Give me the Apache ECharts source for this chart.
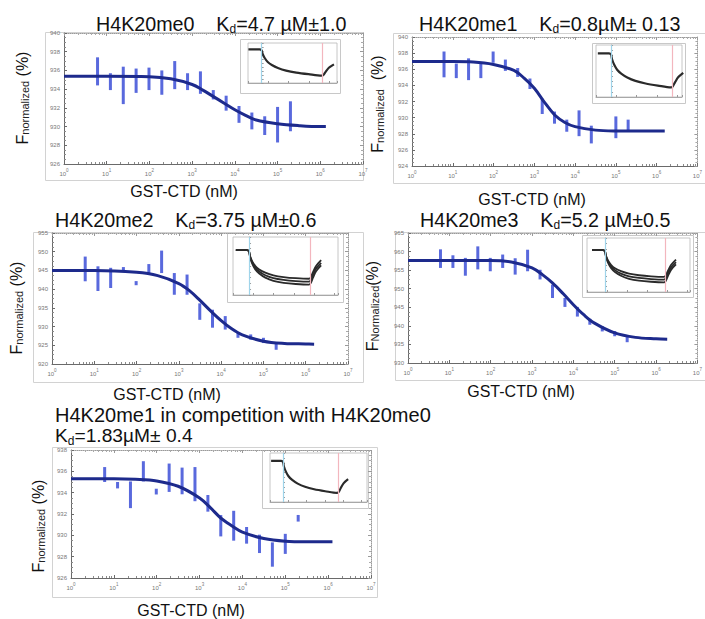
<!DOCTYPE html>
<html><head><meta charset="utf-8">
<script src="https://cdn.jsdelivr.net/npm/echarts@6/dist/echarts.min.js"></script>
<style>html,body{margin:0;padding:0;background:#fff}#c{width:705px;height:619px}</style>
</head><body><div id="c"></div>
<script>
// ---- data ----
const concentrationsNM = [6.1, 12.2, 24.4, 48.8, 97.7, 195, 391, 781, 1563, 3125, 6250, 12500, 25000, 50000, 100000, 200000];
const xTickExponents = [0, 1, 2, 3, 4, 5, 6, 7];

const me0Values = [935.9, 934.8, 934.4, 934.9, 935.1, 934.7, 935.5, 934.8, 934.7, 933.4, 932.5, 931.3, 930.6, 930.1, 930.2, 931.1];
const me0Errors = [1.5, 0.9, 2.0, 1.3, 1.2, 1.3, 1.5, 0.9, 1.2, 0.5, 0.8, 0.9, 0.9, 1.0, 1.9, 1.6];
const me0FitX = [1, 10, 100, 316, 1000, 1778, 3162, 5623, 10000, 17783, 31623, 100000, 316228, 1000000, 1350000];
const me0FitY = [935.37, 935.37, 935.33, 935.1, 934.5, 933.9, 933.2, 932.5, 931.8, 931.2, 930.7, 930.3, 930.1, 930.0, 930.0];
const me0YAxis = [926, 940, 2];

const me1Values = [936.6, 935.8, 936.0, 935.9, 937.5, 936.5, 935.6, 934.2, 931.4, 930.0, 929.0, 929.3, 927.9, null, 928.8, 929.1];
const me1Errors = [1.6, 0.9, 1.35, 1.0, 0.7, 0.7, 0.55, 0.65, 0.95, 0.75, 0.75, 1.6, 1.1, null, 1.35, 0.65];
const me1FitX = [1, 10, 31.6, 100, 316, 562, 1000, 1778, 3162, 5623, 10000, 31623, 100000, 1000000, 1580000];
const me1FitY = [936.95, 936.95, 936.9, 936.6, 935.85, 934.9, 933.65, 931.9, 930.33, 929.4, 928.88, 928.45, 928.35, 928.33, 928.33];
const me1YAxis = [924, 940, 2];

const me2Values = [945.4, 942.8, 943.0, 945.4, 941.6, 945.5, 947.3, 941.4, 941.2, 934.0, 932.1, 931.0, 927.7, 927.2, 926.3, 924.7];
const me2Errors = [3.3, 3.3, 2.7, 0.5, 0.55, 1.2, 3.0, 2.9, 2.7, 2.2, 2.4, 1.8, 0.7, 0.7, 0.7, 0.9];
const me2FitX = [1, 10, 100, 316, 1000, 1778, 3162, 5623, 10000, 17783, 31623, 100000, 316228, 1000000, 1580000];
const me2FitY = [945.0, 945.0, 944.5, 943.6, 941.5, 939.6, 937.0, 934.2, 931.6, 929.4, 927.8, 926.1, 925.5, 925.35, 925.3];
const me2YAxis = [920, 955, 5];

const me3Values = [958.1, 957.3, 955.9, 958.3, 956.5, 957.4, 956.0, 957.6, 953.8, 949.3, 946.3, 943.8, 941.1, 939.2, 937.9, 936.4];
const me3Errors = [2.5, 1.7, 2.4, 3.1, 1.8, 1.8, 2.2, 2.9, 1.3, 1.8, 1.2, 1.3, 0.8, 0.7, 0.7, 0.8];
const me3FitX = [1, 10, 100, 316, 1000, 1778, 3162, 5623, 10000, 17783, 31623, 100000, 316228, 1000000, 1860000];
const me3FitY = [957.6, 957.6, 957.6, 957.2, 955.6, 953.8, 951.5, 948.7, 945.7, 943.0, 940.8, 938.1, 936.9, 936.5, 936.4];
const me3YAxis = [930, 965, 5];

const compValues = [935.7, 934.7, 933.8, 936.0, 934.1, 935.4, 935.1, 934.8, 933.0, 930.9, 930.9, 930.0, 929.2, 928.2, 929.2, 931.6];
const compErrors = [0.7, 0.3, 1.25, 0.95, 0.27, 1.33, 1.25, 1.6, 0.78, 1.0, 1.4, 0.78, 0.86, 1.14, 0.94, 0.31];
const compFitX = [1, 10, 31.6, 100, 316, 1000, 1778, 3162, 5623, 10000, 31623, 100000, 316228, 1000000, 1260000];
const compFitY = [935.3, 935.3, 935.25, 935.1, 934.6, 933.5, 932.6, 931.6, 930.9, 930.3, 929.7, 929.45, 929.4, 929.4, 929.4];
const compYAxis = [926, 938, 2];

// MST time traces shown in the small insets (time in s, normalized fluorescence)
const insetTime = [-6.5, -1, 0, 0.5, 1.5, 3, 5, 8, 12, 17, 23, 29.5, 30.3, 31.5, 33, 35.5];
const traceSingle = [0.968, 0.968, 0.963, 0.945, 0.925, 0.905, 0.89, 0.875, 0.862, 0.852, 0.844, 0.837, 0.84, 0.857, 0.876, 0.893];
const traceHigh = [0.955, 0.955, 0.95, 0.934, 0.917, 0.901, 0.888, 0.877, 0.868, 0.862, 0.858, 0.856, 0.86, 0.879, 0.9, 0.92];
const traceMid = [0.955, 0.955, 0.95, 0.932, 0.913, 0.895, 0.881, 0.868, 0.858, 0.852, 0.848, 0.846, 0.85, 0.869, 0.891, 0.911];
const traceLow = [0.955, 0.955, 0.95, 0.93, 0.909, 0.889, 0.874, 0.86, 0.849, 0.842, 0.838, 0.836, 0.84, 0.86, 0.882, 0.902];
const laserOnOff = [0, 30];

// ---- layout ----
const FONT = 'Liberation Sans, Arial, sans-serif';
const panels = [
  {values: me0Values, errors: me0Errors, fitX: me0FitX, fitY: me0FitY, yAxis: me0YAxis,
   grid: [64, 33, 299, 131], frame: [45, 32, 318, 148],
   insetBox: [240, 39, 100, 54], insetGrid: [248, 43, 89, 40], insetRange: [-6.7, 37], bundle: false,
   titles: [{x: 96, y: 24, size: 19.7, text: '{m|H4K20me0    K}{s|d}{m|=4.7 µM±1.0}'}],
   xName: [184, 191], yName: [22, 98, '{f|F}{s|normalized}{p| (%)}']},
  {values: me1Values, errors: me1Errors, fitX: me1FitX, fitY: me1FitY, yAxis: me1YAxis,
   grid: [412, 37, 293, 129], frame: [393, 33, 330, 150],
   insetBox: [592, 43, 93, 60], insetGrid: [596, 45, 86, 52], insetRange: [-7.4, 34.9], bundle: false,
   titles: [{x: 419, y: 24, size: 19.7, text: '{m|H4K20me1    K}{s|d}{m|=0.8µM± 0.13}'}],
   xName: [532, 199], yName: [377, 104, '{f|F}{s|normalized}{p|  (%)}']},
  {values: me2Values, errors: me2Errors, fitX: me2FitX, fitY: me2FitY, yAxis: me2YAxis,
   grid: [52, 233, 296, 131], frame: [33, 232, 330, 150],
   insetBox: [227, 233, 116, 69], insetGrid: [233, 237, 105, 58], insetRange: [-7.9, 43.8], bundle: true,
   titles: [{x: 55, y: 220, size: 19.7, text: '{m|H4K20me2    K}{s|d}{m|=3.75 µM±0.6}'}],
   xName: [167, 394], yName: [16, 308, '{f|F}{s|normalized}{p| (%)}']},
  {values: me3Values, errors: me3Errors, fitX: me3FitX, fitY: me3FitY, yAxis: me3YAxis,
   grid: [408, 233, 292, 130], frame: [395, 232, 330, 148],
   insetBox: [582, 235, 111, 62], insetGrid: [587, 238, 103, 54], insetRange: [-9, 42.5], bundle: true,
   titles: [{x: 420, y: 220, size: 19.7, text: '{m|H4K20me3    K}{s|d}{m|=5.2 µM±0.5}'}],
   xName: [521, 391], yName: [372, 306, '{f|F}{s|Normalized}{p|(%)}']},
  {values: compValues, errors: compErrors, fitX: compFitX, fitY: compFitY, yAxis: compYAxis,
   grid: [71, 450, 300, 128], frame: [52, 447, 325, 150],
   insetBox: [262, 450, 106, 58], insetGrid: [270, 453, 97, 49], insetRange: [-7.1, 45.8], bundle: false,
   titles: [{x: 55, y: 415, size: 20, text: '{m|H4K20me1 in competition with H4K20me0}'},
            {x: 55, y: 436, size: 19.2, text: '{m|K}{s|d}{m|=1.83µM± 0.4}'}],
   xName: [191, 610], yName: [38, 526, '{f|F}{s|normalized}{p| (%)}']}
];

function titleRich(size) {
  return {
    m: {fontSize: size, lineHeight: size, fontFamily: FONT, fill: '#111', color: '#111', verticalAlign: 'top'},
    s: {fontSize: 12, lineHeight: 12, fontFamily: FONT, fill: '#111', color: '#111', verticalAlign: 'top', padding: [9, 0, 0, 0]}
  };
}
const yNameRich = {
  f: {fontSize: 16, lineHeight: 16, fontFamily: FONT, fill: '#111', color: '#111', verticalAlign: 'top'},
  s: {fontSize: 11, lineHeight: 11, fontFamily: FONT, fill: '#222', color: '#222', verticalAlign: 'top', padding: [5, 0, 0, 0]},
  p: {fontSize: 16, lineHeight: 16, fontFamily: FONT, fill: '#111', color: '#111', verticalAlign: 'top'}
};

const grids = [], xAxes = [], yAxes = [], series = [], graphics = [];
const axisGray = '#6a6a6a';

panels.forEach(p => {
  // main plot
  const g = grids.length;
  grids.push({left: p.grid[0], top: p.grid[1], width: p.grid[2], height: p.grid[3], show: false});
  const xb = xAxes.length;
  const logMin = Math.pow(10, xTickExponents[0]);
  const logMax = Math.pow(10, xTickExponents[xTickExponents.length - 1]);
  xAxes.push({
    type: 'log', logBase: 10, gridIndex: g, min: logMin, max: logMax, position: 'bottom',
    axisLine: {show: true, lineStyle: {color: axisGray, width: 1}},
    axisTick: {show: true, inside: true, length: 3, lineStyle: {color: axisGray}},
    minorTick: {show: true, splitNumber: 8, length: 2, lineStyle: {color: '#8a8a8a'}},
    splitLine: {show: false},
    axisLabel: {
      margin: 4,
      formatter: v => '{b|10}{e|' + Math.round(Math.log10(v)) + '}',
      rich: {
        b: {fontSize: 6, color: '#777', fontFamily: FONT, lineHeight: 9, verticalAlign: 'bottom'},
        e: {fontSize: 4.5, color: '#777', fontFamily: FONT, lineHeight: 9, verticalAlign: 'top'}
      }
    }
  });
  xAxes.push({
    type: 'log', logBase: 10, gridIndex: g, min: logMin, max: logMax, position: 'top',
    axisLine: {show: true, lineStyle: {color: '#9a9a9a', width: 1, type: 'dotted'}},
    axisTick: {show: true, inside: true, length: 3, lineStyle: {color: '#9a9a9a'}},
    minorTick: {show: true, splitNumber: 8, length: 2, lineStyle: {color: '#aaa'}},
    splitLine: {show: false}, axisLabel: {show: false}
  });
  const yl = yAxes.length;
  yAxes.push({
    type: 'value', gridIndex: g, min: p.yAxis[0], max: p.yAxis[1], interval: p.yAxis[2], position: 'left',
    axisLine: {show: true, lineStyle: {color: axisGray, width: 1}},
    axisTick: {show: true, inside: true, length: 3, lineStyle: {color: axisGray}},
    minorTick: {show: true, splitNumber: 4, length: 2, lineStyle: {color: '#8a8a8a'}},
    splitLine: {show: false},
    axisLabel: {fontSize: 6, color: '#777', fontFamily: FONT, margin: 4}
  });
  yAxes.push({
    type: 'value', gridIndex: g, min: p.yAxis[0], max: p.yAxis[1], interval: p.yAxis[2], position: 'right',
    axisLine: {show: true, lineStyle: {color: '#9a9a9a', width: 1, type: 'dotted'}},
    axisTick: {show: true, inside: true, length: 3, lineStyle: {color: '#9a9a9a'}},
    minorTick: {show: true, splitNumber: 4, length: 2, lineStyle: {color: '#aaa'}},
    splitLine: {show: false}, axisLabel: {show: false}
  });

  // fitted curve
  series.push({
    type: 'line', xAxisIndex: xb, yAxisIndex: yl, smooth: 0.35, symbol: 'none',
    data: p.fitX.map((x, i) => [x, p.fitY[i]]),
    lineStyle: {color: '#1d2a8c', width: 3}, z: 3
  });
  // error bars (measured points)
  const pts = [];
  concentrationsNM.forEach((c, i) => { if (p.values[i] != null) pts.push([c, p.values[i], p.errors[i]]); });
  series.push({
    type: 'custom', xAxisIndex: xb, yAxisIndex: yl, data: pts,
    encode: {x: 0, y: 1},
    renderItem: (params, api) => {
      const x = api.value(0), v = api.value(1), e = api.value(2);
      const a = api.coord([x, v - e]), b = api.coord([x, v + e]);
      return {type: 'line', shape: {x1: a[0], y1: a[1], x2: b[0], y2: b[1]},
              style: {stroke: 'rgba(52,72,214,0.82)', lineWidth: 3}};
    }, z: 2
  });

  // inset (MST traces)
  const gi = grids.length;
  grids.push({left: p.insetGrid[0], top: p.insetGrid[1], width: p.insetGrid[2], height: p.insetGrid[3],
              show: true, borderColor: '#b8b8b8', borderWidth: 0.8, backgroundColor: 'rgba(0,0,0,0)'});
  const xi = xAxes.length;
  xAxes.push({type: 'value', gridIndex: gi, min: p.insetRange[0], max: p.insetRange[1], interval: 10,
    axisLine: {show: true, lineStyle: {color: '#999', width: 0.8}},
    axisTick: {show: true, inside: true, length: 2, lineStyle: {color: '#999'}},
    splitLine: {show: false}, axisLabel: {show: false}});
  const yi = yAxes.length;
  yAxes.push({type: 'value', gridIndex: gi, min: 0.8, max: 1.0, interval: 0.02,
    axisLine: {show: true, lineStyle: {color: '#999', width: 0.8}},
    axisTick: {show: true, inside: true, length: 2, lineStyle: {color: '#999'}},
    splitLine: {show: false}, axisLabel: {show: false}});
  const traces = p.bundle ? [traceHigh, traceMid, traceLow] : [traceSingle];
  traces.forEach((tr, k) => {
    const s = {
      type: 'line', xAxisIndex: xi, yAxisIndex: yi, symbol: 'none', smooth: 0.3,
      data: insetTime.map((t, i) => [t, tr[i]]),
      lineStyle: {color: '#2a2a2a', width: p.bundle ? 1.8 : 2.2}, z: 4
    };
    if (k === 0) {
      s.markLine = {
        silent: true, symbol: ['none', 'none'], label: {show: false},
        data: [{xAxis: laserOnOff[0], lineStyle: {color: '#9fd4ea', type: 'solid', width: 1.2}},
               {xAxis: laserOnOff[1], lineStyle: {color: '#f3b6be', type: 'solid', width: 1.2}}]
      };
    }
    series.push(s);
  });

  // frames
  graphics.push({type: 'rect', silent: true, z: 0,
    shape: {x: p.frame[0] + 0.5, y: p.frame[1] + 0.5, width: p.frame[2], height: p.frame[3]},
    style: {fill: 'none', stroke: '#d2d2d2', lineWidth: 1}});
  graphics.push({type: 'rect', silent: true, z: 0,
    shape: {x: p.insetBox[0] + 0.5, y: p.insetBox[1] + 0.5, width: p.insetBox[2], height: p.insetBox[3]},
    style: {fill: 'none', stroke: '#c8c8c8', lineWidth: 1}});
  // titles
  p.titles.forEach(t => graphics.push({type: 'text', x: t.x, y: t.y, z: 10, silent: true,
    style: {text: t.text, rich: titleRich(t.size), align: 'left', verticalAlign: 'middle', fill: '#111'}}));
  // axis names
  graphics.push({type: 'text', x: p.xName[0], y: p.xName[1], z: 10, silent: true,
    style: {text: 'GST-CTD (nM)', fontSize: 16, fontFamily: FONT, fill: '#111', align: 'center', verticalAlign: 'middle'}});
  graphics.push({type: 'text', x: p.yName[0], y: p.yName[1], rotation: Math.PI / 2, z: 10, silent: true,
    style: {text: p.yName[2], rich: yNameRich, align: 'center', verticalAlign: 'middle', fill: '#111'}});
});

const chart = echarts.init(document.getElementById('c'), null, {renderer: 'svg', width: 705, height: 619});
chart.setOption({
  animation: false,
  backgroundColor: '#fff',
  grid: grids, xAxis: xAxes, yAxis: yAxes, series: series,
  graphic: {elements: graphics}
});
</script>
</body></html>
